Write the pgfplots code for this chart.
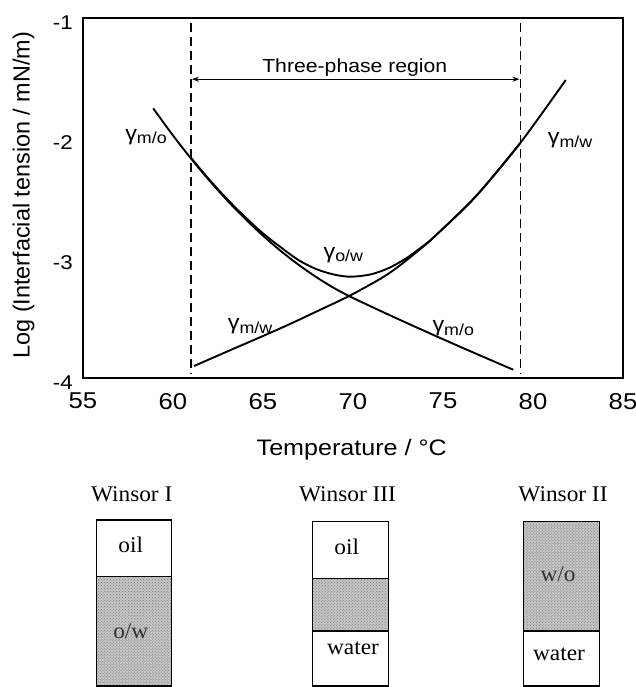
\documentclass[border=0pt]{standalone}
\usepackage{fontspec}
\setmainfont{Liberation Sans}[FakeStretch=1.12]
\newfontfamily\ylabfont{Liberation Sans}
\newfontfamily\serfont{Liberation Serif}[FakeStretch=1.04]
\usepackage{pgfplots}
\pgfplotsset{compat=1.18}
\usetikzlibrary{arrows.meta,patterns}
\newcommand\gam[1]{{\fontsize{21}{21}\selectfont γ}\raisebox{-3.5bp}{\fontsize{16}{16}\selectfont #1}}
\begin{document}
\begin{tikzpicture}
\path[use as bounding box] (0,0) rectangle (636bp,687bp);
% ---------- main chart ----------
\begin{axis}[
  at={(83bp,309bp)}, anchor=south west,
  width=540bp, height=360bp, scale only axis,
  xmin=55, xmax=85, ymin=-4, ymax=-1,
  xtick={55,60,65,70,75,80,85}, xticklabels={55,60,65,70,75,80,85},
  ytick={-4,-3,-2,-1}, yticklabels={-4,-3,-2,-1},
  major tick length=0pt,
  axis line style={line width=1.6bp},
  xticklabel style={font=\fontsize{23}{23}\selectfont, anchor=north, inner sep=0pt, yshift=-15bp},
  yticklabel style={font=\fontsize{20}{20}\selectfont, anchor=east, inner sep=0pt, xshift=-10bp, yshift=-5bp},
  xlabel={Temperature / °C},
  ylabel={Log (Interfacial tension / mN/m)},
  xlabel style={font=\fontsize{22.5}{22.5}\selectfont, at={(axis description cs:0.4976,-0.2)}, anchor=center},
  ylabel style={font=\ylabfont\fontsize{23.5}{23.5}\selectfont, at={(axis description cs:-0.1102,0.508)}, anchor=center},
  clip=false,
  every axis plot/.append style={line width=1.9bp, black},
]
% gamma m/o
\addplot[smooth] coordinates {(58.9,-1.753) (60,-1.979) (61,-2.171) (62,-2.351) (63,-2.518) (64,-2.672) (65,-2.814) (66,-2.943) (67,-3.059) (68,-3.163) (69,-3.255) (70,-3.333) (72,-3.474) (74,-3.610) (76,-3.743) (78,-3.873) (78.9,-3.931)};
% gamma o/w
\addplot[smooth] coordinates {(61,-2.165) (62,-2.344) (63,-2.508) (64,-2.658) (65,-2.795) (66,-2.912) (67,-3.02) (68,-3.095) (69,-3.14) (69.9,-3.156) (71,-3.136) (72,-3.083) (73,-2.998) (74,-2.888) (74.5,-2.825) (76.8,-2.49) (79.28,-2.044)};
% gamma m/w
\addplot[smooth] coordinates {(61.17,-3.90) (63,-3.78) (65,-3.65) (66.5,-3.55) (68.2,-3.43) (69.78,-3.317) (71.5,-3.175) (72.4,-3.085) (73.5,-2.955) (74.5,-2.825) (76.8,-2.49) (79.28,-2.044) (81.82,-1.517)};
% dashed boundaries
\addplot[dash pattern=on 9bp off 5bp, line width=1.7bp] coordinates {(61,-1.04) (61,-3.96)};
\addplot[dash pattern=on 9bp off 5bp, line width=1.7bp] coordinates {(79.3,-1.04) (79.3,-3.96)};
% arrow
\addplot[line width=1.3bp, {Stealth[length=7bp,width=5bp]}-{Stealth[length=7bp,width=5bp]}] coordinates {(61.05,-1.51) (79.25,-1.51)};
\node[font=\fontsize{19}{19}\selectfont] at (axis cs:70.1,-1.41) {Three-phase region};
\node at (axis cs:58.5,-1.99) {\gam{m/o}};
\node at (axis cs:82.06,-2.02) {\gam{m/w}};
\node at (axis cs:69.46,-2.975) {\gam{o/w}};
\node at (axis cs:75.57,-3.586) {\gam{m/o}};
\node at (axis cs:64.28,-3.57) {\gam{m/w}};
\end{axis}
% ---------- Winsor diagrams (pixel coordinates) ----------
\begin{axis}[
  at={(0bp,0bp)}, anchor=south west,
  width=636bp, height=687bp, scale only axis,
  xmin=0, xmax=636, ymin=0, ymax=687, y dir=reverse,
  hide axis, clip=false,
  every axis plot/.append style={draw=black, line width=1.4bp},
  dotted/.style={fill=gray!45, postaction={pattern=crosshatch dots, pattern color=black!55}},
]
% Winsor I
\addplot[fill=white] coordinates {(96.7,520) (171.7,520) (171.7,576.7) (96.7,576.7)} --cycle;
\addplot[dotted] coordinates {(96.7,576.7) (171.7,576.7) (171.7,686) (96.7,686)} --cycle;
% Winsor III
\addplot[fill=white] coordinates {(312.3,521.7) (388.3,521.7) (388.3,578.3) (312.3,578.3)} --cycle;
\addplot[dotted] coordinates {(312.3,578.3) (388.3,578.3) (388.3,631) (312.3,631)} --cycle;
\addplot[fill=white] coordinates {(312.3,631) (388.3,631) (388.3,686) (312.3,686)} --cycle;
% Winsor II
\addplot[dotted] coordinates {(523.3,521.7) (599.3,521.7) (599.3,631) (523.3,631)} --cycle;
\addplot[fill=white] coordinates {(523.3,631) (599.3,631) (599.3,686) (523.3,686)} --cycle;
\begin{scope}[every node/.style={font=\serfont\fontsize{22.5}{22.5}\selectfont, anchor=base, inner sep=0pt}]
\node at (axis cs:131.7,501) {Winsor I};
\node at (axis cs:347.5,501) {Winsor III};
\node at (axis cs:563,501) {Winsor II};
\node at (axis cs:130.8,552) {oil};
\node[text=black!80] at (axis cs:130.8,638.3) {o/w};
\node at (axis cs:346.7,554) {oil};
\node at (axis cs:353,654) {water};
\node[text=black!80] at (axis cs:558,581.7) {w/o};
\node at (axis cs:559,660) {water};
\end{scope}
\end{axis}
\end{tikzpicture}
\end{document}
